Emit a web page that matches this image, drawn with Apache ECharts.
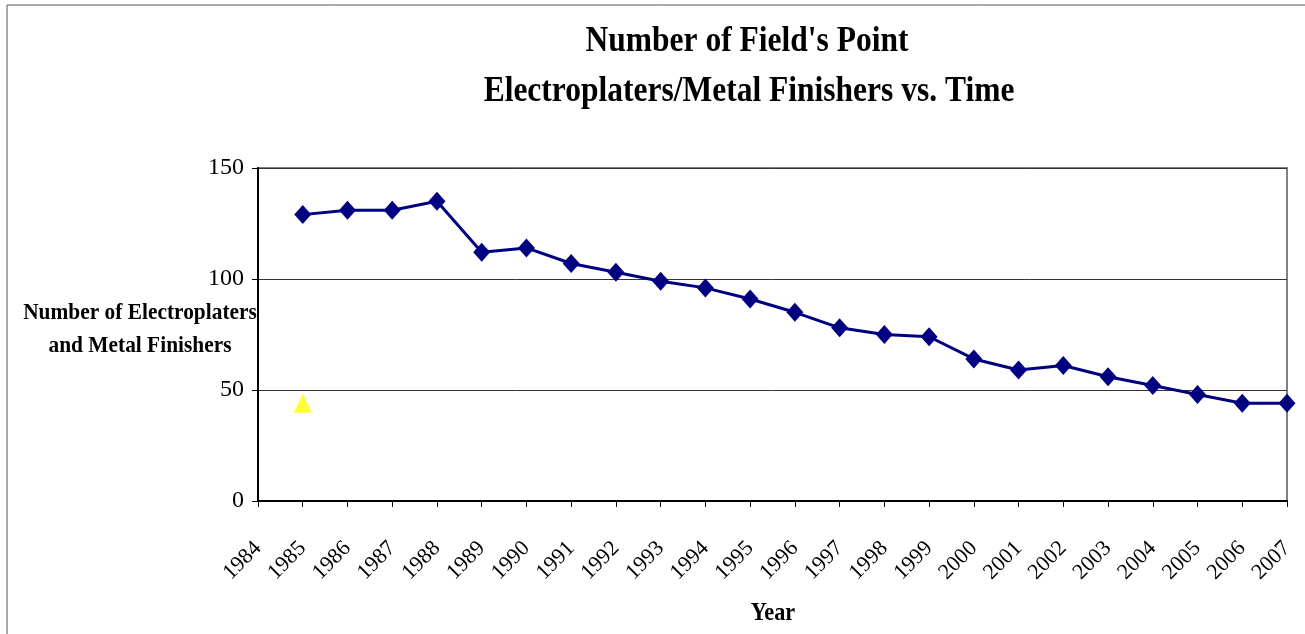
<!DOCTYPE html>
<html>
<head>
<meta charset="utf-8">
<title>Field's Point Electroplaters</title>
<script src="https://cdn.jsdelivr.net/npm/echarts@6/dist/echarts.min.js"></script>
<style>
  html, body { margin: 0; padding: 0; background: #fff; }
  #echart { width: 1305px; height: 634px; }
</style>
</head>
<body>
<div id="echart"></div>
<script type="text/javascript">
// data
var years = ["1984", "1985", "1986", "1987", "1988", "1989", "1990", "1991", "1992", "1993", "1994", "1995",
  "1996", "1997", "1998", "1999", "2000", "2001", "2002", "2003", "2004", "2005", "2006", "2007"];
var shopCounts = [null, 129, 131, 131, 135, 112, 114, 107, 103, 99, 96, 91,
  85, 78, 75, 74, 64, 59, 61, 56, 52, 48, 44, 44];
// single yellow triangle marker at 1985
var triangleYear = "1985";
var triangleValue = 44;
var yTicks = [0, 50, 100, 150];

var serif = "'Liberation Serif', 'Times New Roman', serif";

var chart = echarts.init(document.getElementById("echart"));

chart.setOption({
  animation: false,
  backgroundColor: "#fff",
  grid: {
    left: 258,
    right: 18,
    top: 168,
    bottom: 133,
    show: true,
    borderColor: "#808080",
    borderWidth: 2
  },
  graphic: [
    // outer chart frame (only left and top edges are visible)
    {
      type: "rect",
      shape: { x: 7, y: 5, width: 1400, height: 700 },
      style: { fill: null, stroke: "#555", lineWidth: 1 },
      silent: true
    },
    {
      type: "text", x: 747, y: 42, scaleX: 0.9,
      style: { text: "Number of Field's Point", font: "bold 35px " + serif, fill: "#000", align: "center", verticalAlign: "middle" }
    },
    {
      type: "text", x: 749, y: 92, scaleX: 0.9,
      style: { text: "Electroplaters/Metal Finishers vs. Time", font: "bold 35px " + serif, fill: "#000", align: "center", verticalAlign: "middle" }
    },
    {
      type: "text", x: 140, y: 313, scaleX: 0.93,
      style: { text: "Number of Electroplaters", font: "bold 23px " + serif, fill: "#000", align: "center", verticalAlign: "middle" }
    },
    {
      type: "text", x: 140, y: 346, scaleX: 0.93,
      style: { text: "and Metal Finishers", font: "bold 23px " + serif, fill: "#000", align: "center", verticalAlign: "middle" }
    },
    {
      type: "text", x: 773, y: 614, scaleX: 0.89,
      style: { text: "Year", font: "bold 25px " + serif, fill: "#000", align: "center", verticalAlign: "middle" }
    }
  ],
  xAxis: {
    type: "category",
    data: years,
    boundaryGap: false,
    axisLine: { lineStyle: { color: "#000", width: 2 } },
    axisTick: { show: true, length: 6, interval: 0, lineStyle: { color: "#000", width: 1 } },
    axisLabel: {
      interval: 0,
      rotate: 45,
      margin: 44,
      fontFamily: serif,
      fontSize: 22,
      color: "#000"
    },
    splitLine: { show: false }
  },
  yAxis: {
    type: "value",
    min: yTicks[0],
    max: yTicks[yTicks.length - 1],
    interval: 50,
    axisLine: { show: true, lineStyle: { color: "#000", width: 2 } },
    axisTick: { show: true, length: 6, lineStyle: { color: "#000" } },
    axisLabel: {
      margin: 14,
      fontFamily: serif,
      fontSize: 24,
      color: "#000"
    },
    splitLine: { show: true, lineStyle: { color: "#333", width: 1 } }
  },
  series: [
    {
      name: "Electroplaters",
      type: "line",
      data: shopCounts,
      symbol: "diamond",
      symbolSize: [17, 19],
      showAllSymbol: true,
      connectNulls: false,
      lineStyle: { color: "#000080", width: 3 },
      itemStyle: { color: "#000080" },
      z: 3
    },
    {
      name: "Marker",
      type: "scatter",
      data: [[triangleYear, triangleValue]],
      symbol: "triangle",
      symbolSize: [18, 19],
      itemStyle: { color: "#FFFF00" },
      z: 4
    }
  ]
});
</script>
</body>
</html>
